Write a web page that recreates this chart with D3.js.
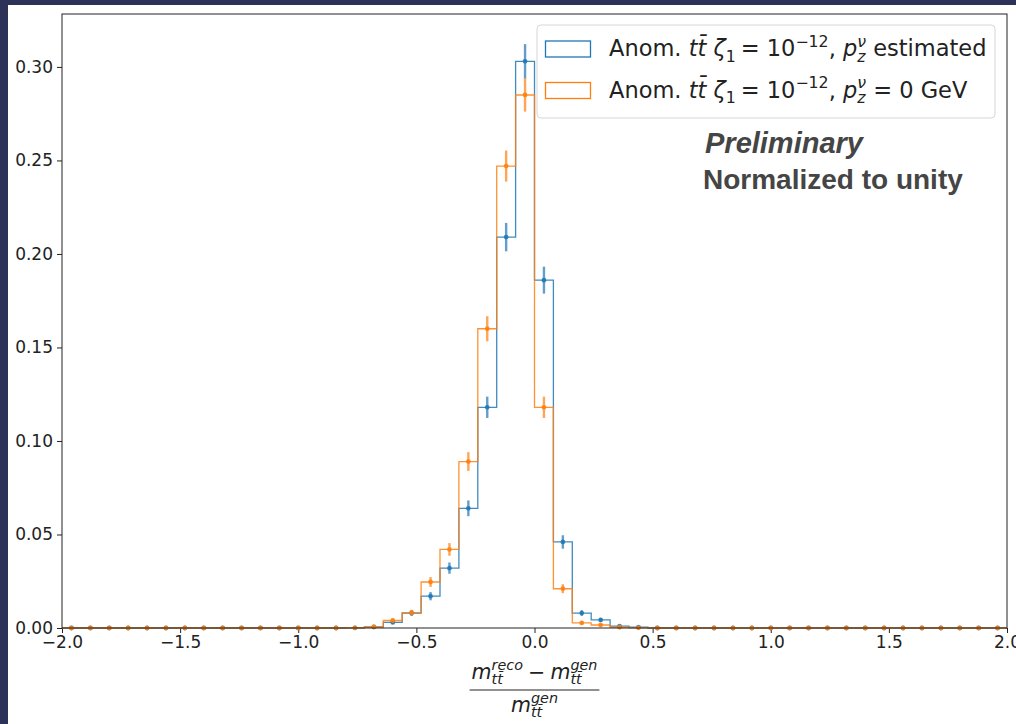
<!DOCTYPE html>
<html>
<head>
<meta charset="utf-8">
<script src="https://cdn.jsdelivr.net/npm/d3@7"></script>
<style>
  html, body { margin: 0; padding: 0; background: #2d3358; }
  svg { display: block; }
  text { white-space: pre; }
</style>
</head>
<body>
<script>
// 50 bins of width 0.08 between -2 and 2
var binEdges = d3.range(51).map(function(i) { return -2 + 0.08 * i; });

var estValues = [0,0,0,0,0, 0,0,0,0,0, 0,0,0,0,0,
  0.0001, 0.0005, 0.003, 0.008, 0.017, 0.032, 0.064, 0.118, 0.209, 0.303,
  0.186, 0.046, 0.008, 0.0043, 0.001, 0.0005,
  0,0,0,0,0, 0,0,0,0,0, 0,0,0,0,0, 0,0,0,0];
var estErrors = [0,0,0,0,0, 0,0,0,0,0, 0,0,0,0,0,
  0, 0.0003, 0.0009, 0.0015, 0.0022, 0.003, 0.0042, 0.0057, 0.0076, 0.0092,
  0.0072, 0.0036, 0.0015, 0.0011, 0.0005, 0.0004,
  0,0,0,0,0, 0,0,0,0,0, 0,0,0,0,0, 0,0,0,0];

var zeroValues = [0,0,0,0,0, 0,0,0,0,0, 0,0,0,0,0,
  0.0001, 0.0007, 0.004, 0.0082, 0.0246, 0.042, 0.089, 0.160, 0.247, 0.285,
  0.118, 0.021, 0.0027, 0.0016, 0.0004, 0.0001,
  0,0,0,0,0, 0,0,0,0,0, 0,0,0,0,0, 0,0,0,0];
var zeroErrors = [0,0,0,0,0, 0,0,0,0,0, 0,0,0,0,0,
  0, 0.0004, 0.0011, 0.0015, 0.0026, 0.0034, 0.005, 0.0067, 0.0083, 0.0089,
  0.0057, 0.0024, 0.0009, 0.0007, 0.0003, 0.0002,
  0,0,0,0,0, 0,0,0,0,0, 0,0,0,0,0, 0,0,0,0];

var xTicks = [-2.0, -1.5, -1.0, -0.5, 0.0, 0.5, 1.0, 1.5, 2.0];
var yTicks = [0.00, 0.05, 0.10, 0.15, 0.20, 0.25, 0.30];

var blue = '#1f77b4', orange = '#ff7f0e';
var mathFont = '"DejaVu Sans", sans-serif';

var W = 1016, H = 724;
var margin = { left: 62, top: 14, right: 1007, bottom: 628 };

var svg = d3.select('body').append('svg').attr('width', W).attr('height', H);
svg.append('rect').attr('x', 8).attr('y', 5).attr('width', W - 8).attr('height', H - 5)
  .attr('fill', '#fff');

var x = d3.scaleLinear().domain([-2, 2]).range([margin.left, margin.right]);
var y = d3.scaleLinear().domain([0, 0.3283]).range([margin.bottom, margin.top]);

// axes
var xAxis = d3.axisBottom(x).tickValues(xTicks).tickFormat(d3.format('.1f')).tickSize(5).tickPadding(3);
var yAxis = d3.axisLeft(y).tickValues(yTicks).tickFormat(d3.format('.2f')).tickSize(5).tickPadding(4);

var gx = svg.append('g').attr('transform', 'translate(0,' + margin.bottom + ')').call(xAxis);
var gy = svg.append('g').attr('transform', 'translate(' + margin.left + ',0)').call(yAxis);
[gx, gy].forEach(function(g) {
  g.select('.domain').remove();
  g.selectAll('line').attr('stroke', '#222');
  g.selectAll('text').attr('font-family', mathFont).attr('font-size', 17).attr('fill', '#222');
});

// histograms (step)
function stepPoints(vals) {
  var pts = [[x(binEdges[0]), y(0)]];
  vals.forEach(function(v, i) {
    pts.push([x(binEdges[i]), y(v)]);
    pts.push([x(binEdges[i + 1]), y(v)]);
  });
  pts.push([x(binEdges[binEdges.length - 1]), y(0)]);
  return pts;
}
var line = d3.line();
svg.append('path').attr('d', line(stepPoints(estValues)))
  .attr('fill', 'none').attr('stroke', blue).attr('stroke-width', 1.3).attr('opacity', 0.85);
svg.append('path').attr('d', line(stepPoints(zeroValues)))
  .attr('fill', 'none').attr('stroke', orange).attr('stroke-width', 1.3).attr('opacity', 0.85);

// error bars
function errorBars(vals, errs, color) {
  var g = svg.append('g');
  vals.forEach(function(v, i) {
    var cx = x((binEdges[i] + binEdges[i + 1]) / 2);
    if (errs[i] > 0) {
      g.append('line').attr('x1', cx).attr('x2', cx)
        .attr('y1', y(v - errs[i])).attr('y2', y(v + errs[i]))
        .attr('stroke', color).attr('stroke-width', 2.4).attr('opacity', 0.7);
    }
    g.append('circle').attr('cx', cx).attr('cy', y(v)).attr('r', 2.4)
      .attr('fill', color).attr('opacity', 0.85);
  });
}
errorBars(estValues, estErrors, blue);
errorBars(zeroValues, zeroErrors, orange);

// frame
svg.append('rect').attr('x', margin.left).attr('y', margin.top)
  .attr('width', margin.right - margin.left).attr('height', margin.bottom - margin.top)
  .attr('fill', 'none').attr('stroke', '#222').attr('stroke-width', 1);

// math-like text runs
function drawRuns(g, x0, y0, size, runs) {
  var cx = x0;
  runs.forEach(function(r) {
    var t = g.append('text').attr('x', cx).attr('y', y0)
      .attr('font-family', mathFont).attr('font-size', size)
      .attr('font-style', r.it ? 'italic' : 'normal').attr('fill', '#222')
      .text(r.t);
    cx += t.node().getComputedTextLength();
    var adv = 0;
    if (r.sup) {
      var s = g.append('text').attr('x', cx).attr('y', y0 - size * 0.42)
        .attr('font-family', mathFont).attr('font-size', size * 0.7)
        .attr('font-style', r.supIt ? 'italic' : 'normal').attr('fill', '#222').text(r.sup);
      adv = Math.max(adv, s.node().getComputedTextLength());
    }
    if (r.sub) {
      var b = g.append('text').attr('x', cx).attr('y', y0 + size * 0.25)
        .attr('font-family', mathFont).attr('font-size', size * 0.7)
        .attr('font-style', r.subIt ? 'italic' : 'normal').attr('fill', '#222').text(r.sub);
      adv = Math.max(adv, b.node().getComputedTextLength());
    }
    cx += adv + (r.gap || 0);
  });
  return cx - x0;
}

// legend
var leg = svg.append('g');
leg.append('rect').attr('x', 537).attr('y', 25).attr('width', 458).attr('height', 93)
  .attr('rx', 4).attr('fill', 'rgba(255,255,255,0.8)').attr('stroke', '#d6d6d6');
var legendItems = [
  { color: blue, tail: [{ t: ' estimated' }] },
  { color: orange, tail: [{ t: ' = 0 GeV' }] }
];
legendItems.forEach(function(item, i) {
  var yy = 41 + i * 41.5;
  leg.append('rect').attr('x', 545.5).attr('y', yy).attr('width', 45).attr('height', 16)
    .attr('fill', 'none').attr('stroke', item.color).attr('stroke-width', 1.3);
  var runs = [
    { t: 'Anom. ' }, { t: 't', it: true }, { t: 't\u0304 ', it: true },
    { t: '\u03b6', it: true, sub: '1', gap: 5 }, { t: '= 10', sup: '\u221212' },
    { t: ', ' }, { t: 'p', it: true, sup: '\u03bd', sub: 'z', supIt: true, subIt: true }
  ].concat(item.tail);
  drawRuns(leg, 609, yy + 15, 22.5, runs);
});

// annotation
svg.append('text').attr('x', 705).attr('y', 153)
  .attr('font-family', '"Liberation Sans", Arial, sans-serif').attr('font-size', 29)
  .attr('font-weight', 'bold').attr('font-style', 'italic').attr('fill', '#454545')
  .text('Preliminary');
svg.append('text').attr('x', 703).attr('y', 189)
  .attr('font-family', '"Liberation Sans", Arial, sans-serif').attr('font-size', 28)
  .attr('font-weight', 'bold').attr('fill', '#454545')
  .text('Normalized to unity');

// x label as a fraction
var xl = svg.append('g');
var numRuns = [
  { t: 'm', it: true, sup: 'reco', sub: 'tt\u0304', supIt: true, subIt: true },
  { t: '\u2005\u2212\u2005' },
  { t: 'm', it: true, sup: 'gen', sub: 'tt\u0304', supIt: true, subIt: true }
];
var denRuns = [
  { t: 'm', it: true, sup: 'gen', sub: 'tt\u0304', supIt: true, subIt: true }
];
var labelSize = 20.5;
var tmp = svg.append('g').attr('opacity', 0);
var nw = drawRuns(tmp, 0, 0, labelSize, numRuns);
var dw = drawRuns(tmp, 0, 0, labelSize, denRuns);
tmp.remove();
var cxl = x(0);
drawRuns(xl, cxl - nw / 2, 679, labelSize, numRuns);
drawRuns(xl, cxl - dw / 2, 712, labelSize, denRuns);
xl.append('line').attr('x1', cxl - nw / 2 - 2).attr('x2', cxl + nw / 2 + 2)
  .attr('y1', 690).attr('y2', 690).attr('stroke', '#222').attr('stroke-width', 1.2);
</script>
</body>
</html>
